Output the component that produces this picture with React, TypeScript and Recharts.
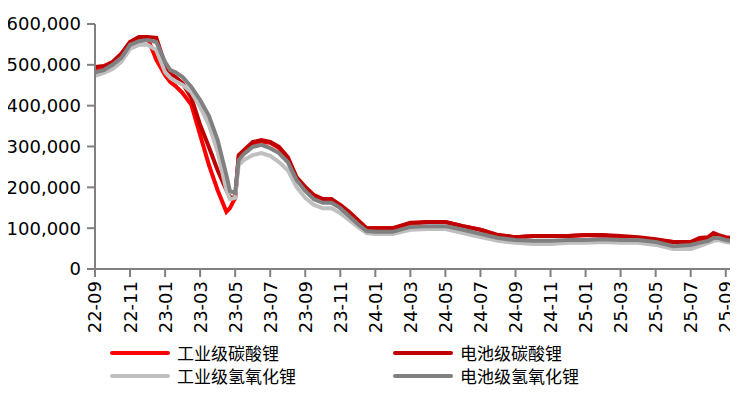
import { LineChart, Line, XAxis, YAxis, Legend } from "recharts";

// months since 2022-09
const MONTHS = [
  0, 0.5, 1, 1.5, 2, 2.5, 3, 3.5, 4, 4.3, 4.6, 5, 5.5, 6, 6.5, 7, 7.5, 7.7, 8, 8.2, 8.5,
  9, 9.5, 10, 10.5, 11, 11.5, 12, 12.5, 13, 13.5, 14, 14.5, 15, 15.5, 16, 16.5, 17,
  18, 19, 20, 21, 22, 23, 24, 25, 26, 27, 28, 29, 30, 31, 32, 33, 34,
  34.5, 35, 35.3, 35.6, 36, 36.3,
];

const IND_CARBONATE = [
  487000, 495000, 504000, 524000, 556000, 566000, 566000, 512000, 475000, 458000, 448000,
  431000, 402000, 328000, 255000, 193000, 140000, 149000, 174000, 274000, 289000,
  306000, 311000, 309000, 296000, 272000, 223000, 198000, 179000, 171000, 171000, 154000, 137000, 118000, 100000, 100000, 100000, 100000,
  110000, 115000, 115000, 105000, 96000, 83000, 78000, 81000, 81000, 81000, 83000, 81000, 78000, 76000, 71000, 66000, 66000,
  73000, 76000, 86000, 81000, 76000, 73000,
];

const BAT_CARBONATE = [
  495000, 497000, 507000, 527000, 556000, 568000, 568000, 566000, 500000, 478000, 470000,
  455000, 419000, 353000, 299000, 242000, 193000, 176000, 174000, 279000, 291000,
  311000, 316000, 311000, 299000, 274000, 225000, 201000, 181000, 171000, 171000, 157000, 140000, 120000, 100000, 100000, 100000, 100000,
  113000, 115000, 115000, 105000, 96000, 83000, 78000, 81000, 81000, 81000, 83000, 83000, 81000, 78000, 73000, 66000, 66000,
  76000, 78000, 88000, 83000, 78000, 76000,
];

const IND_HYDROXIDE = [
  473000, 480000, 490000, 507000, 539000, 549000, 549000, 536000, 482000, 468000, 460000,
  451000, 433000, 397000, 353000, 287000, 193000, 171000, 174000, 255000, 267000,
  279000, 284000, 277000, 262000, 242000, 201000, 174000, 157000, 149000, 149000, 137000, 120000, 103000, 88000, 86000, 86000, 86000,
  96000, 98000, 98000, 88000, 78000, 69000, 64000, 61000, 61000, 64000, 64000, 66000, 64000, 64000, 59000, 49000, 49000,
  56000, 64000, 69000, 71000, 66000, 64000,
];

const BAT_HYDROXIDE = [
  482000, 487000, 500000, 517000, 549000, 558000, 561000, 556000, 507000, 487000, 482000,
  470000, 446000, 414000, 375000, 316000, 230000, 191000, 186000, 267000, 282000,
  299000, 304000, 296000, 284000, 262000, 218000, 191000, 171000, 162000, 162000, 149000, 130000, 110000, 93000, 91000, 91000, 91000,
  103000, 105000, 105000, 96000, 86000, 76000, 71000, 69000, 69000, 71000, 71000, 73000, 71000, 71000, 66000, 56000, 59000,
  64000, 69000, 76000, 76000, 71000, 69000,
];

const TICK_POS = [0, 2, 4, 6, 8, 10, 12, 14, 16, 18, 20, 22, 24, 26, 28, 30, 32, 34, 36];
const TICK_LABELS = [
  "22-09", "22-11", "23-01", "23-03", "23-05", "23-07", "23-09", "23-11", "24-01", "24-03",
  "24-05", "24-07", "24-09", "24-11", "25-01", "25-03", "25-05", "25-07", "25-09",
];
const Y_TICKS = [0, 100000, 200000, 300000, 400000, 500000, 600000];

const SERIES = [
  { key: "ic", name: "工业级碳酸锂", color: "#FF0000" },
  { key: "bc", name: "电池级碳酸锂", color: "#C00000" },
  { key: "ih", name: "工业级氢氧化锂", color: "#BFBFBF" },
  { key: "bh", name: "电池级氢氧化锂", color: "#808080" },
];

const data = MONTHS.map((t, i) => ({
  t,
  ic: IND_CARBONATE[i],
  bc: BAT_CARBONATE[i],
  ih: IND_HYDROXIDE[i],
  bh: BAT_HYDROXIDE[i],
}));

const FONT = "'DejaVu Sans', sans-serif";
const AXIS = "#808080";

function MonthTick({ x, y, index }: any) {
  return (
    <g transform={`translate(${x},${y})`}>
      <text
        x={0}
        y={0}
        dy="0.36em"
        transform="rotate(-90)"
        textAnchor="end"
        fontFamily={FONT}
        fontSize={18}
        fill="#000"
      >
        {TICK_LABELS[index]}
      </text>
    </g>
  );
}

function LegendBox() {
  return (
    <div
      style={{
        display: "grid",
        gridTemplateColumns: "283px 283px",
        fontFamily: "'Noto Sans CJK SC', sans-serif",
        fontSize: 17,
        color: "#000",
      }}
    >
      {SERIES.map((s) => (
        <div key={s.key} style={{ display: "flex", alignItems: "center", height: 23 }}>
          <span
            style={{
              display: "inline-block",
              width: 60,
              height: 4,
              borderRadius: 2,
              background: s.color,
              marginRight: 7,
            }}
          />
          <span>{s.name}</span>
        </div>
      ))}
    </div>
  );
}

export default function App() {
  return (
    <LineChart
      width={730}
      height={385}
      data={data}
      margin={{ top: 16, right: 7, bottom: 64, left: 0 }}
    >
      <XAxis
        dataKey="t"
        type="number"
        domain={[0, 36.3]}
        ticks={TICK_POS}
        interval={0}
        height={60}
        tick={<MonthTick />}
        tickSize={8}
        tickMargin={4}
        stroke={AXIS}
        strokeWidth={2}
      />
      <YAxis
        domain={[0, 600000]}
        ticks={Y_TICKS}
        width={87}
        tickSize={8}
        tickMargin={6}
        tickFormatter={(v: number) => v.toLocaleString("en-US")}
        tick={{ fontFamily: FONT, fontSize: 18, fill: "#000" }}
        stroke={AXIS}
        strokeWidth={2}
      />
      <Legend
        verticalAlign="middle"
        layout="horizontal"
        content={() => <LegendBox />}
        wrapperStyle={{ left: 102, top: 333, width: 600 }}
      />
      {SERIES.map((s) => (
        <Line
          key={s.key}
          type="linear"
          dataKey={s.key}
          name={s.name}
          stroke={s.color}
          strokeWidth={4}
          dot={false}
          isAnimationActive={false}
        />
      ))}
    </LineChart>
  );
}
